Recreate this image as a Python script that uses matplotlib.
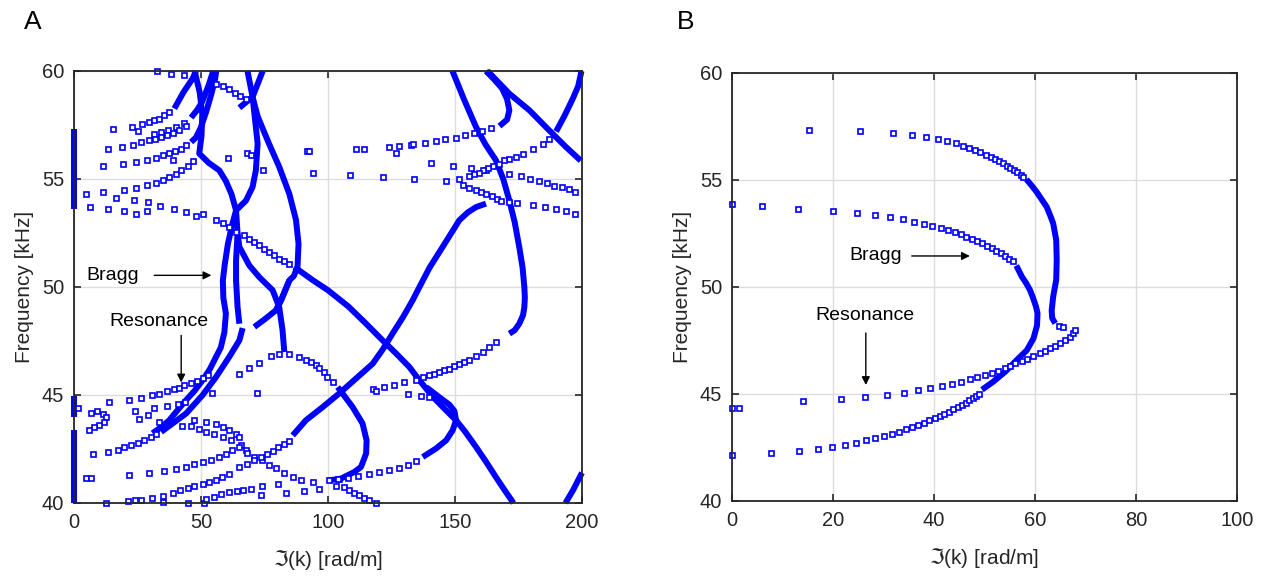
import matplotlib.pyplot as plt

BLUE = '#0000FF'

# ---------------- panel A : (k [rad/m], f [kHz]) ----------------
# dense branches (markers overlap into a solid band)
a_axis_top = [(0, 53.6), (0, 57.3)]
a_axis_mid = [(0, 44.0), (0, 44.95)]
a_axis_low = [(0, 40.0), (0, 43.4)]
a_edge_low = [(193.5, 40.0), (196.5, 40.6), (200, 41.4)]
a_cross = [(162.8, 60), (171.4, 58.95), (179.3, 58.18), (187.1, 57.25), (193.7, 56.48), (199.5, 55.85)]
a_edge_top = [(199.8, 60), (198.5, 59.3), (196.3, 58.7), (193, 57.9), (189.8, 57.2)]
a_top_arc = [(162.2, 60), (165.5, 59.6), (168.5, 59.2), (170.5, 58.7), (171.4, 58.18), (170.5, 57.75), (167.5, 57.45)]
a_hook = [(149, 60), (153.5, 58.7), (158.3, 57.4), (162, 56.6), (166.1, 55.87), (169, 55.0), (171.4, 54.0),
          (173.5, 53.0), (175.3, 51.85), (176.6, 50.9), (177.3, 50.0), (177.5, 49.5), (177.3, 49.07),
          (176.8, 48.7), (175.3, 48.3), (173.5, 48.0), (171.4, 47.84)]
a_rise = [(86.1, 43.13), (91.3, 43.83), (98, 44.45), (104.4, 45.07), (111, 45.76), (117.6, 46.45), (121.5, 47.1),
          (125.4, 47.84), (129.5, 48.6), (133.3, 49.38), (136, 50.0), (140, 50.9), (145.1, 51.85),
          (151.7, 53.09), (155, 53.45), (158.3, 53.7), (162.2, 53.86)]
a_fall = [(86.7, 50.93), (94.2, 50.3), (100, 49.85), (108, 49.1), (115, 48.3), (121.5, 47.53), (127, 46.9),
          (132, 46.3), (136, 45.68), (141, 44.95), (146, 44.35), (150.4, 43.83), (154, 43.3), (158.3, 42.59),
          (162, 41.95), (166.1, 41.2), (169.5, 40.6), (173, 40.0)]
a_loop = [(137.3, 42.13), (142.5, 42.52), (146.5, 42.9), (149.1, 43.37), (150.4, 43.83), (149.8, 44.25),
          (147.8, 44.55), (143.8, 44.9), (138.6, 45.37)]
a_arc = [(47.5, 60), (49.5, 59.0), (50.5, 58.0), (50.2, 57.0), (49.3, 56.18), (53, 55.75), (57.2, 55.4),
         (59.8, 54.9), (62, 54.3), (63.8, 53.55), (64.4, 52.47), (65.1, 51.86), (69, 51.0), (73, 50.45),
         (78.2, 49.85), (80.8, 49.07), (82.1, 48.0), (82.8, 46.99)]
a_y3_low = [(103.8, 45.37), (106.8, 44.9), (109.7, 44.44), (113.6, 43.68), (115.2, 42.9), (115, 42.29),
            (113, 41.67), (110.4, 41.44), (107.7, 41.28), (105.1, 41.13), (100.5, 41.05)]
a_down = [(70.3, 58.8), (72.3, 57.9), (73, 57.7), (76.9, 56.6), (80.8, 55.56), (84.8, 54.3), (87.4, 53.1),
          (88.4, 52.0), (88.0, 50.93), (86.5, 50.5), (84.8, 50.31), (81.5, 49.38), (79.5, 48.92)]
a_x_left = [(68.3, 60), (70.3, 58.8), (65.1, 58.3)]
a_bragg = [(74.3, 60), (70.3, 58.8), (71.6, 57.4), (72.3, 56.64), (71.6, 55.4), (70.3, 54.63), (67.7, 54.0),
           (65.1, 53.7), (63.8, 53.55), (62.3, 52.9), (60.6, 52.0), (59.3, 51.0), (58.6, 50.3), (58.8, 49.5),
           (59.8, 48.77), (59.2, 47.9), (57.8, 47.2), (55.9, 46.76), (53.5, 46.2), (50.6, 45.68), (47.5, 45.2),
           (44.1, 44.76), (40.8, 44.3), (37.5, 43.83), (34.2, 43.5), (30.9, 43.23)]
a_bragg2 = [(64.4, 52.47), (63.8, 51.24), (63.8, 50.3), (64.4, 49.07), (65.1, 48.3)]
a_res_low = [(34.3, 43.29), (44.1, 44.14), (50.6, 44.99), (55.9, 45.83), (61.1, 46.76), (65.1, 47.53), (66.4, 48.1)]
a_g1 = [(39.5, 58.26), (43, 59.0), (46.7, 59.65), (48, 60)]
a_g2 = [(46.1, 57.84), (48.5, 58.2), (50.4, 58.56), (53, 59.34), (54.8, 60)]
a_g4 = [(46.1, 56.71), (48, 56.92), (50, 57.4), (52, 58.1), (54, 58.9), (55.5, 59.6), (56, 60)]
a_up_right = [(71.0, 48.15), (75, 48.5), (79.5, 48.92), (81.5, 49.38), (84.8, 50.31)]

# sparse branches (single open squares)
a_s_row1 = [(15.2, 57.3), (22.8, 57.41), (26.8, 57.56), (29.4, 57.63), (31.6, 57.72), (33.3, 57.8), (35.6, 57.95),
            (37.5, 58.1), (25, 57.2)]
a_s_row2 = [(31.6, 57.1), (34.3, 57.18), (37, 57.27), (40.2, 57.41), (43.3, 57.6)]
a_s_row3 = [(13.2, 56.38), (18.9, 56.5), (23.1, 56.59), (26.4, 56.7), (29.4, 56.79), (32, 56.87), (34.3, 56.94),
            (36.5, 57.04), (39, 57.15), (41.5, 57.28), (44, 57.45)]
a_s_row4 = [(11.3, 55.59), (19.1, 55.68), (24.4, 55.79), (28.6, 55.9), (32.3, 55.99), (34.9, 56.1), (37.5, 56.2),
            (39.9, 56.31), (42.1, 56.41), (44.1, 56.56), (38.8, 55.9), (60.5, 55.99)]
a_s_rowu = [(4.7, 54.29), (11.3, 54.4), (19.8, 54.48), (24.6, 54.58), (28.6, 54.71), (32.3, 54.83), (35, 54.95),
            (37.5, 55.1), (40, 55.25), (42.3, 55.42), (44.7, 55.59), (46.8, 55.85)]
a_s_rowd = [(6.3, 53.7), (13.2, 53.6), (16.5, 54.12), (19.8, 53.52), (23.7, 54.01), (24.6, 53.4), (28.6, 53.5),
            (29, 53.93), (34, 53.75), (39.5, 53.6), (44, 53.45), (48, 53.3), (50.6, 53.4), (55.9, 53.12),
            (58.5, 52.94), (61.1, 52.78), (63.8, 52.55), (67, 52.39), (69, 52.24), (71, 52.08), (73, 51.93),
            (74.9, 51.78), (76.9, 51.62), (78.9, 51.47), (80.8, 51.31), (82.8, 51.19), (84.8, 51.08)]
a_s_top = [(32.5, 60), (38.2, 59.88), (43.4, 59.8), (55.9, 59.4), (58.5, 59.3), (61, 59.15), (63.5, 59.0),
           (65.5, 58.85), (67.7, 58.7)]
a_s_mid = [(68.3, 56.2), (69.7, 56.1), (91.9, 56.3), (92.6, 56.3), (111, 56.41), (114.3, 56.41), (124.1, 56.48),
           (128, 56.51), (126.8, 56.2), (132.7, 56.56), (133.3, 56.6), (138, 56.68), (142.5, 56.76),
           (146, 56.83), (150.4, 56.92), (154, 57.03), (157.6, 57.13), (160.5, 57.2), (164, 57.35)]
a_s_q2 = [(74.5, 55.4), (94, 55.3), (108.8, 55.2), (121.5, 55.1), (133.7, 55.0), (146.5, 54.91), (153, 54.7),
          (155.6, 54.6), (158.3, 54.5), (160.2, 54.4), (162.2, 54.32), (164.6, 54.2), (166.4, 54.09),
          (168.1, 53.98), (171.4, 53.92), (174.3, 53.89), (180.6, 53.78), (185.6, 53.7), (189.8, 53.6),
          (193.7, 53.5), (197.2, 53.4)]
a_s_q1 = [(140.4, 55.73), (149.3, 55.62), (156.3, 55.52), (162.4, 55.4), (171.4, 55.23), (176, 55.12),
          (179.5, 55.0), (182.9, 54.9), (186.1, 54.8), (189.1, 54.69), (192, 54.62), (194.7, 54.54), (197.2, 54.41)]
a_s_edge = [(187.1, 56.87), (184.5, 56.64), (180.6, 56.41), (176.6, 56.18), (174, 56.02), (171.4, 55.94),
            (169.4, 55.87), (167.2, 55.71), (164.8, 55.59), (162.8, 55.51), (161.1, 55.4), (159.3, 55.3),
            (157.6, 55.22), (155.6, 55.12), (151.7, 55.02)]
a_s_hook = [(166.1, 47.45), (163.5, 47.22), (160.9, 46.99), (158.3, 46.79), (155.6, 46.64), (153.6, 46.55),
            (151.7, 46.45), (149.7, 46.33), (147.8, 46.22), (145.8, 46.14), (143.8, 46.06), (141.8, 45.98),
            (139.9, 45.91), (137.3, 45.83), (134.6, 45.71), (130, 45.6), (126.1, 45.48), (122.2, 45.37),
            (117.6, 45.28), (118.9, 45.17), (131.3, 45.06), (136.6, 44.95), (139.9, 44.91)]
a_s_res_up = [(1.4, 44.4), (6.7, 44.17), (8.9, 44.26), (11.3, 44.14), (12.6, 43.98), (11.9, 43.75), (10, 43.6),
              (8, 43.52), (6, 43.37), (13.9, 44.68), (21.5, 44.79), (26.4, 44.88), (30.7, 44.99), (33.6, 45.06),
              (36.6, 45.17), (39.2, 45.26), (41.5, 45.34), (43.4, 45.45), (45.9, 45.55), (48.4, 45.67),
              (50.6, 45.79), (52.6, 45.91)]
a_s_res_low = [(7.3, 42.29), (13.2, 42.36), (17.2, 42.47), (19.8, 42.59), (22.4, 42.7), (25, 42.78), (27.7, 42.9),
               (30.3, 43.06), (32.3, 43.18)]
a_s_scatter = [(24.1, 44.28), (25.7, 43.91), (29, 44.06), (31.6, 44.4), (33.3, 43.75), (36.6, 44.48),
               (40.8, 44.57), (42.5, 43.56), (43.8, 44.68), (46, 43.56), (47.1, 43.86), (49.3, 43.44),
               (52, 43.75), (52, 43.29), (55.2, 43.18), (55.9, 43.64), (58.5, 43.52), (58.5, 43.06),
               (61.1, 43.4), (61.8, 42.9), (63.8, 43.21), (65.1, 43.06), (65.7, 42.67), (67.7, 42.44),
               (54.5, 45.1), (84.8, 46.88), (88.7, 46.76), (91.3, 46.64), (93.3, 46.53), (95.3, 46.38),
               (96.6, 46.27), (98.5, 46.07), (99.8, 45.83), (101.8, 45.6), (65.1, 45.99), (69, 46.27),
               (73, 46.5), (77.6, 46.79), (80.8, 46.92), (72, 45.1)]
a_s_r1 = [(4.7, 41.16), (6.7, 41.16), (21.5, 41.28), (29.4, 41.39), (35.3, 41.48), (40.2, 41.56), (44.1, 41.67),
          (47.4, 41.79), (50.6, 41.9), (53.9, 41.98), (56.9, 42.13), (59.8, 42.29), (62.4, 42.44), (65.1, 42.59),
          (68, 42.3), (71, 42.15), (74, 41.98), (76.9, 41.78), (79.5, 41.6), (82.5, 41.4), (86.1, 41.2),
          (89.5, 41.08), (93.9, 40.96)]
a_s_r0 = [(12.6, 40.0), (21.1, 40.1), (24, 40.16), (26.4, 40.16), (30.9, 40.25), (34.9, 40.31), (34.9, 40.05),
          (38.8, 40.46), (41.7, 40.59), (44.7, 40.71), (44.7, 40.0), (47.4, 40.77), (50.6, 40.87), (51.3, 40.0),
          (53.3, 40.97), (55.9, 41.08), (58.3, 41.2), (60.9, 41.36), (65.1, 41.67), (68, 41.82), (71, 41.98),
          (73.5, 42.12), (76, 42.27), (78.2, 42.42), (80.5, 42.57), (82.5, 42.72), (84.5, 42.88)]
a_s_r0b = [(52, 40.2), (55, 40.3), (58, 40.4), (61, 40.5), (64, 40.55), (66.4, 40.59), (69.7, 40.67),
           (74, 40.77), (73.6, 40.36), (80.2, 40.9), (83.5, 40.48), (90.7, 40.56), (96.6, 40.67), (100.5, 41.08),
           (103.2, 40.77)]
a_s_bottom = [(104.5, 41.13), (106.4, 40.74), (108.4, 40.59), (110.4, 40.46), (112.3, 40.36), (114.3, 40.25),
              (116.3, 40.13), (118.9, 40.0), (104, 41.1), (108, 41.17), (112, 41.24), (116, 41.32), (120, 41.42),
              (124, 41.52), (128, 41.63), (131.5, 41.76), (134.6, 41.93)]

# ---------------- panel B ----------------
b_upper_s = [(15.2, 57.35), (25.3, 57.3), (31.8, 57.21), (35.6, 57.12), (38.5, 57.01), (40.8, 56.92), (42.6, 56.81),
             (44.3, 56.72), (45.7, 56.6), (47.0, 56.51), (48.1, 56.42), (49.2, 56.29), (50.3, 56.18), (51.3, 56.07),
             (52.1, 55.98), (52.9, 55.89), (53.7, 55.78), (54.5, 55.67), (55.1, 55.57), (55.8, 55.47),
             (56.4, 55.36), (57.2, 55.25), (57.7, 55.14), (64.8, 48.19), (65.6, 48.11)]
b_upper_d = [(58.3, 55.03), (59.3, 54.75), (60.3, 54.45), (61.3, 54.1), (62.3, 53.75), (63.0, 53.35), (63.6, 52.97),
             (64.2, 52.2), (64.3, 51.26), (64.2, 50.33), (63.6, 49.55), (63.3, 48.9), (63.4, 48.55), (64.0, 48.3)]
b_bragg_s = [(0, 53.88), (6.0, 53.77), (13.0, 53.66), (20.0, 53.57), (24.7, 53.46), (28.3, 53.36), (31.3, 53.27),
             (33.9, 53.16), (36.0, 53.05), (38.0, 52.96), (39.7, 52.86), (41.3, 52.76), (42.8, 52.66), (44.1, 52.56),
             (45.3, 52.46), (46.4, 52.35), (47.5, 52.26), (48.5, 52.15), (49.5, 52.04), (50.5, 51.93), (51.4, 51.82),
             (52.3, 51.7), (53.2, 51.58), (54.0, 51.46), (54.8, 51.33), (55.6, 51.2)]
b_bragg_d = [(56.3, 51.0), (57.4, 50.48), (58.2, 50.2), (59.0, 49.86), (59.6, 49.5), (60.2, 49.08), (60.5, 48.77),
             (60.4, 48.2), (59.7, 47.6), (58.4, 47.05), (56.4, 46.59), (54.1, 46.04), (51.7, 45.57), (49.5, 45.2)]
b_res_up = [(0, 44.36), (1.4, 44.36), (14.1, 44.66), (21.6, 44.77), (26.3, 44.86), (30.7, 44.95), (34.0, 45.06),
            (36.8, 45.17), (39.3, 45.27), (41.5, 45.37), (43.6, 45.48), (45.3, 45.57), (47.1, 45.68), (48.6, 45.78),
            (50.1, 45.87), (51.4, 46.0), (52.7, 46.09), (54.1, 46.2), (55.0, 46.31), (56.0, 46.43), (57.4, 46.54),
            (58.5, 46.65), (59.7, 46.78), (60.9, 46.9), (62.0, 47.02), (63.0, 47.14), (64.0, 47.24), (64.9, 47.37),
            (65.9, 47.52), (66.9, 47.68), (67.5, 47.85), (67.9, 47.99)]
b_res_low = [(0, 42.13), (7.8, 42.24), (13.3, 42.34), (17.0, 42.43), (19.9, 42.54), (22.4, 42.63), (24.6, 42.72),
             (26.6, 42.84), (28.4, 42.94), (30.0, 43.04), (31.6, 43.14), (33.1, 43.24), (34.4, 43.35), (35.6, 43.46),
             (36.8, 43.55), (38.0, 43.66), (39.1, 43.77), (40.1, 43.86), (41.1, 43.97), (42.0, 44.08), (43.0, 44.17),
             (43.8, 44.28), (44.7, 44.39), (45.5, 44.49), (46.3, 44.59), (47.0, 44.70), (47.7, 44.79), (48.3, 44.91),
             (48.9, 45.01)]

a_dense = [a_axis_top, a_axis_mid, a_axis_low, a_edge_low, a_cross, a_edge_top, a_top_arc, a_hook, a_rise,
           a_fall, a_loop, a_arc, a_y3_low, a_down, a_x_left, a_bragg, a_bragg2, a_res_low,
           a_g1, a_g2, a_g4, a_up_right]
a_sparse = [a_s_row1, a_s_row2, a_s_row3, a_s_row4, a_s_rowu, a_s_rowd, a_s_top, a_s_mid, a_s_q2, a_s_q1,
            a_s_edge, a_s_hook, a_s_res_up, a_s_res_low, a_s_scatter, a_s_r1, a_s_r0, a_s_r0b, a_s_bottom]
b_dense = [b_upper_d, b_bragg_d]
b_sparse = [b_upper_s, b_bragg_s, b_res_up, b_res_low]

plt.rcParams['font.family'] = ['Liberation Sans', 'DejaVu Sans']
plt.rcParams['mathtext.fontset'] = 'dejavusans'

fig = plt.figure(figsize=(12.7, 5.8), dpi=100)
axA = fig.add_axes([74 / 1270, 77 / 580, 508 / 1270, 432 / 580])
axB = fig.add_axes([732 / 1270, 79 / 580, 505 / 1270, 428 / 580])


def draw(ax, dense, sparse):
    for c in dense:
        ks, fs = zip(*c)
        ax.plot(ks, fs, '-', color=BLUE, lw=4.3, solid_capstyle='butt', solid_joinstyle='round',
                clip_on=False, zorder=3)
    for c in sparse:
        ks, fs = zip(*c)
        ax.plot(ks, fs, 's', ls='none', ms=3.6, mfc='white', mec=BLUE, mew=1.2, clip_on=False, zorder=3)


def style(ax, xmax, xstep):
    ax.set_xlim(0, xmax)
    ax.set_ylim(40, 60)
    ax.set_xticks(range(0, xmax + 1, xstep))
    ax.set_yticks(range(40, 61, 5))
    ax.grid(True, color='#dcdcdc', lw=1.0)
    ax.set_axisbelow(True)
    ax.tick_params(direction='in', length=5, width=1.2, top=True, right=True, labelsize=14.5,
                   colors='#262626', pad=7)
    for s in ax.spines.values():
        s.set_color('#262626')
        s.set_linewidth(1.3)
        s.set_zorder(5)
    ax.set_xlabel(r'$\Im$(k) [rad/m]', fontsize=15, color='#262626', labelpad=12)
    ax.set_ylabel('Frequency [kHz]', fontsize=15, color='#262626', labelpad=6)


draw(axA, a_dense, a_sparse)
draw(axB, b_dense, b_sparse)
style(axA, 200, 50)
style(axB, 100, 20)

arrow = dict(arrowstyle='-|>', color='black', lw=1.0, mutation_scale=12, shrinkA=0, shrinkB=0)
axA.annotate('', xy=(54.1, 50.54), xytext=(31.6, 50.54), arrowprops=arrow)
axA.text(4.9, 50.54, 'Bragg', fontsize=14, va='center', ha='left')
axA.annotate('', xy=(42.2, 45.58), xytext=(42.2, 47.76), arrowprops=arrow)
axA.text(33.6, 48.41, 'Resonance', fontsize=14, va='center', ha='center')

axB.annotate('', xy=(47.1, 51.45), xytext=(35.6, 51.45), arrowprops=arrow)
axB.text(28.5, 51.45, 'Bragg', fontsize=14, va='center', ha='center')
axB.annotate('', xy=(26.5, 45.42), xytext=(26.5, 47.85), arrowprops=arrow)
axB.text(26.3, 48.69, 'Resonance', fontsize=14, va='center', ha='center')

fig.text(24 / 1270, 1 - 22 / 580, 'A', fontsize=19, va='center', ha='left')
fig.text(677 / 1270, 1 - 22 / 580, 'B', fontsize=19, va='center', ha='left')

fig.savefig('out.png', dpi=100, facecolor='white')
